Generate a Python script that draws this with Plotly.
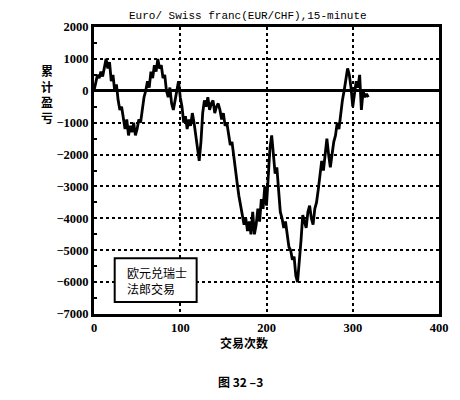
import plotly.graph_objects as go

# Cumulative profit/loss, one value every 2 trades (trade 0, 2, 4, ...)
step = 2
pnl = [
    0, 300, 500, 400, 600, 450, 800, 1000, 700, 900,
    300, 500, 0, 200, -300, -600, -500, -900, -1200, -900,
    -1400, -1100, -1300, -1000, -1400, -1200, -900, -1000, -600, -200,
    0, 300, 100, 600, 400, 800, 600, 1000, 700, 800,
    400, 500, 0, -200, 100, -400, -600, -300, 0, 300,
    -200, -500, -1000, -800, -1200, -900, -1100, -700, -1000, -1500,
    -1800, -2200, -1600, -700, -300, -500, -200, -600, -400, -300,
    -700, -500, -400, -600, -900, -700, -1100, -1000, -1400, -1700,
    -1600, -2100, -2600, -2900, -3300, -3600, -3900, -4200, -4000, -4400,
    -4100, -4500, -3800, -4500, -4200, -3700, -4100, -3400, -3700, -3000,
    -3600, -2500, -1800, -1400, -2000, -2600, -2400, -3100, -3800, -4000,
    -4300, -4100, -4600, -4900, -5000, -5300, -5200, -5800, -6000, -5400,
    -4700, -3900, -4100, -4300, -3800, -3600, -4000, -4200, -3700, -3500,
    -3100, -2700, -2200, -2500, -1900, -1500, -2000, -2400, -2000, -1600,
    -1400, -1000, -1200, -700, -300, 0, 300, 700, 500, 100,
    -500, -100, 300, 100, 500, -600, 0, -200, -100, -200,
]
trades = [i * step for i in range(len(pnl))]

x_ticks = [0, 100, 200, 300, 400]
y_ticks = [2000, 1000, 0, -1000, -2000, -3000, -4000, -5000, -6000, -7000]

title_text = "Euro/ Swiss franc(EUR/CHF),15-minute"
y_title = "累<br>计<br>盈<br>亏"
x_title = "交易次数"
box_text = "欧元兑瑞士<br>法郎交易"
caption = "图 32 –3"

# page has an 8px body margin, so the figure is 452x392 drawn at (8, 8)
W, H = 452, 392
ML, MR, MT, MB = 86, 21, 13, 86
PW, PH = W - ML - MR, H - MT - MB


def px(x_page, y_page):
    """page pixel -> paper coords"""
    xf, yf = x_page - 8, y_page - 8
    return (xf - ML) / PW, (H - yf - MB) / PH


def bold_label(v):
    s = str(v).replace("-", "\u2212")
    return "<b>" + s + "</b>"


tick_font = dict(family="Liberation Serif, Times New Roman, serif", size=12.5, color="black")
cjk = "Noto Sans CJK SC"

fig = go.Figure()
fig.add_trace(go.Scatter(
    x=trades, y=pnl, mode="lines",
    line=dict(color="black", width=2.8),
    showlegend=False, hoverinfo="skip",
))

fig.update_layout(
    width=W, height=H,
    margin=dict(l=ML, r=MR, t=MT, b=MB),
    paper_bgcolor="white", plot_bgcolor="white",
    showlegend=False,
)

fig.update_xaxes(
    range=[0, 400], tickvals=x_ticks, ticktext=[bold_label(v) for v in x_ticks],
    showgrid=True, gridcolor="black", griddash="dot", gridwidth=1.5,
    zeroline=False,
    showline=True, linecolor="black", linewidth=3, mirror=True,
    ticks="", tickfont=tick_font,
)
fig.update_yaxes(
    range=[-7000, 2000], tickvals=y_ticks, ticktext=[bold_label(v) for v in y_ticks],
    showgrid=True, gridcolor="black", griddash="dot", gridwidth=1.5,
    zeroline=True, zerolinecolor="black", zerolinewidth=3,
    showline=True, linecolor="black", linewidth=3, mirror=True,
    ticks="inside", ticklen=3, tickwidth=2, tickcolor="black",
    minor=dict(dtick=500, ticks="inside", ticklen=3, tickwidth=2, tickcolor="black"),
    tickfont=tick_font,
)

fig.add_shape(type="rect", xref="x", yref="y", x0=24, x1=119, y0=-6620, y1=-5250,
              line=dict(color="black", width=2), fillcolor="white", layer="above")
fig.add_annotation(x=36, y=-5935, xref="x", yref="y", text=box_text, showarrow=False,
                   xanchor="left", yanchor="middle", align="left",
                   font=dict(family=cjk, size=12, color="black"))


def page_text(xp, yp, text, font):
    x, y = px(xp, yp)
    fig.add_annotation(x=x, y=y, xref="paper", yref="paper", xanchor="center",
                       yanchor="middle", text=text, showarrow=False, align="center",
                       font=font)


page_text(248, 10, title_text, dict(family="Liberation Mono", size=11, color="black"))
page_text(47, 89, y_title, dict(family=cjk, size=12, color="black", weight="bold"))
page_text(244, 343, x_title, dict(family=cjk, size=12, color="black", weight="bold"))
page_text(240, 383, caption, dict(family=cjk, size=12, color="black", weight="bold"))

fig.write_html("out.html")
